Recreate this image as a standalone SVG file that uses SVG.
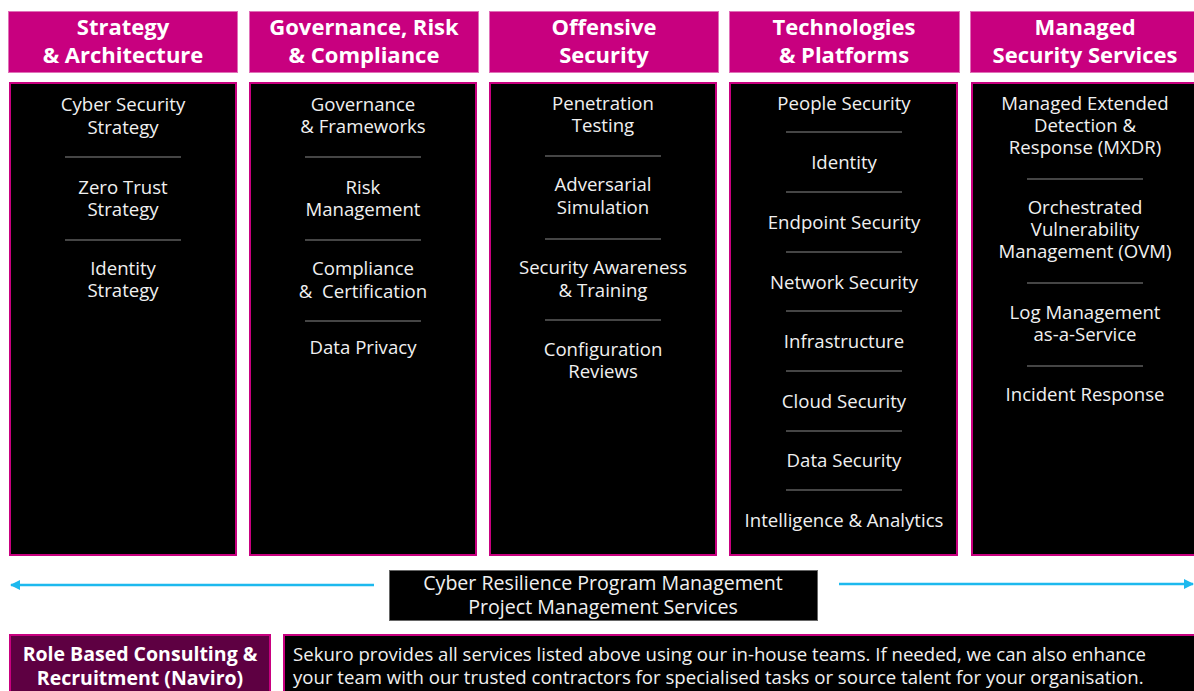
<svg xmlns="http://www.w3.org/2000/svg" width="1194" height="691" viewBox="0 0 1194 691">
<defs>
<style>
.hdr{fill:#C8007F;stroke:#E070B8;stroke-width:1}
.body{fill:#000;stroke:#C8007F;stroke-width:2}
.ht{font-family:"Open Sans","DejaVu Sans",sans-serif;font-weight:bold;font-size:22px;fill:#fff;text-anchor:middle}
.bt{font-family:"Open Sans","DejaVu Sans",sans-serif;font-size:18.6px;fill:#f0f0f0;text-anchor:middle}
.sep{stroke:#8a8a8a;stroke-width:1.2}
.arr{stroke:#1DB9EE;stroke-width:2.5;fill:none}
</style>
<marker id="ah" viewBox="0 0 10 10" refX="9" refY="5" markerWidth="4" markerHeight="4" orient="auto-start-reverse">
<path d="M0,0 L10,5 L0,10 z" fill="#1DB9EE"/>
</marker>
</defs>
<rect width="1194" height="691" fill="#fff"/>

<g id="col1">
<rect class="hdr" x="8.5" y="11.5" width="229" height="61"/>
<text class="ht" x="123" y="35">Strategy<tspan x="123" dy="28">&amp; Architecture</tspan></text>
<rect class="body" x="10" y="83" width="226" height="472"/>
<text class="bt" x="123" y="111">Cyber Security<tspan x="123" dy="23">Strategy</tspan></text>
<line class="sep" x1="65" y1="157" x2="181" y2="157"/>
<text class="bt" x="123" y="194">Zero Trust<tspan x="123" dy="22">Strategy</tspan></text>
<line class="sep" x1="65" y1="240" x2="181" y2="240"/>
<text class="bt" x="123" y="275">Identity<tspan x="123" dy="22">Strategy</tspan></text>
</g>

<g id="col2">
<rect class="hdr" x="249.5" y="11.5" width="229" height="61"/>
<text class="ht" x="364" y="35">Governance, Risk<tspan x="364" dy="28">&amp; Compliance</tspan></text>
<rect class="body" x="250" y="83" width="226" height="472"/>
<text class="bt" x="363" y="111">Governance<tspan x="363" dy="22">&amp; Frameworks</tspan></text>
<line class="sep" x1="305" y1="157" x2="421" y2="157"/>
<text class="bt" x="363" y="194">Risk<tspan x="363" dy="22">Management</tspan></text>
<line class="sep" x1="305" y1="240" x2="421" y2="240"/>
<text class="bt" x="363" y="275" xml:space="preserve">Compliance<tspan x="363" dy="23">&amp;  Certification</tspan></text>
<line class="sep" x1="305" y1="321" x2="421" y2="321"/>
<text class="bt" x="363" y="354">Data Privacy</text>
</g>

<g id="col3">
<rect class="hdr" x="489.5" y="11.5" width="229" height="61"/>
<text class="ht" x="604" y="35">Offensive<tspan x="604" dy="28">Security</tspan></text>
<rect class="body" x="490" y="83" width="226" height="472"/>
<text class="bt" x="603" y="110">Penetration<tspan x="603" dy="22">Testing</tspan></text>
<line class="sep" x1="545" y1="156" x2="661" y2="156"/>
<text class="bt" x="603" y="191">Adversarial<tspan x="603" dy="23">Simulation</tspan></text>
<line class="sep" x1="545" y1="239" x2="661" y2="239"/>
<text class="bt" x="603" y="274">Security Awareness<tspan x="603" dy="23">&amp; Training</tspan></text>
<line class="sep" x1="545" y1="320" x2="661" y2="320"/>
<text class="bt" x="603" y="356">Configuration<tspan x="603" dy="22">Reviews</tspan></text>
</g>

<g id="col4">
<rect class="hdr" x="729.5" y="11.5" width="230" height="61"/>
<text class="ht" x="844" y="35">Technologies<tspan x="844" dy="28">&amp; Platforms</tspan></text>
<rect class="body" x="730" y="83" width="227" height="472"/>
<text class="bt" x="844" y="110">People Security</text>
<line class="sep" x1="786" y1="132" x2="902" y2="132"/>
<text class="bt" x="844" y="169">Identity</text>
<line class="sep" x1="786" y1="192" x2="902" y2="192"/>
<text class="bt" x="844" y="229">Endpoint Security</text>
<line class="sep" x1="786" y1="252" x2="902" y2="252"/>
<text class="bt" x="844" y="289">Network Security</text>
<line class="sep" x1="786" y1="311" x2="902" y2="311"/>
<text class="bt" x="844" y="348">Infrastructure</text>
<line class="sep" x1="786" y1="371" x2="902" y2="371"/>
<text class="bt" x="844" y="408">Cloud Security</text>
<line class="sep" x1="786" y1="431" x2="902" y2="431"/>
<text class="bt" x="844" y="467">Data Security</text>
<line class="sep" x1="786" y1="490" x2="902" y2="490"/>
<text class="bt" x="844" y="527">Intelligence &amp; Analytics</text>
</g>

<g id="col5">
<rect class="hdr" x="970.5" y="11.5" width="230" height="61"/>
<text class="ht" x="1085" y="35">Managed<tspan x="1085" dy="28">Security Services</tspan></text>
<rect class="body" x="972" y="83" width="230" height="472"/>
<text class="bt" x="1085" y="110">Managed Extended<tspan x="1085" dy="22">Detection &amp;</tspan><tspan x="1085" dy="22">Response (MXDR)</tspan></text>
<line class="sep" x1="1027" y1="179" x2="1143" y2="179"/>
<text class="bt" x="1085" y="214">Orchestrated<tspan x="1085" dy="22">Vulnerability</tspan><tspan x="1085" dy="22">Management (OVM)</tspan></text>
<line class="sep" x1="1027" y1="283" x2="1143" y2="283"/>
<text class="bt" x="1085" y="319">Log Management<tspan x="1085" dy="22">as-a-Service</tspan></text>
<line class="sep" x1="1027" y1="366" x2="1143" y2="366"/>
<text class="bt" x="1085" y="401">Incident Response</text>
</g>

<g id="connectors">
<line class="arr" x1="374" y1="585" x2="11" y2="585" marker-end="url(#ah)"/>
<line class="arr" x1="839" y1="584" x2="1193" y2="584" marker-end="url(#ah)"/>
</g>

<g id="program">
<rect x="389.5" y="570.5" width="428" height="50" fill="#000" stroke="#666" stroke-width="1"/>
<text class="bt" x="603" y="590" style="font-size:19.6px">Cyber Resilience Program Management<tspan x="603" dy="24">Project Management Services</tspan></text>
</g>

<g id="naviro">
<rect x="10" y="635" width="260" height="60" fill="#5E0042" stroke="#C8007F" stroke-width="2"/>
<text class="ht" x="140" y="661" style="font-size:19.5px">Role Based Consulting &amp;<tspan x="140" dy="24">Recruitment (Naviro)</tspan></text>
</g>

<g id="note">
<rect x="284" y="635" width="915" height="60" fill="#000" stroke="#C8007F" stroke-width="2"/>
<text class="bt" x="293" y="661" style="text-anchor:start">Sekuro provides all services listed above using our in-house teams. If needed, we can also enhance<tspan x="293" dy="23">your team with our trusted contractors for specialised tasks or source talent for your organisation.</tspan></text>
</g>
</svg>
